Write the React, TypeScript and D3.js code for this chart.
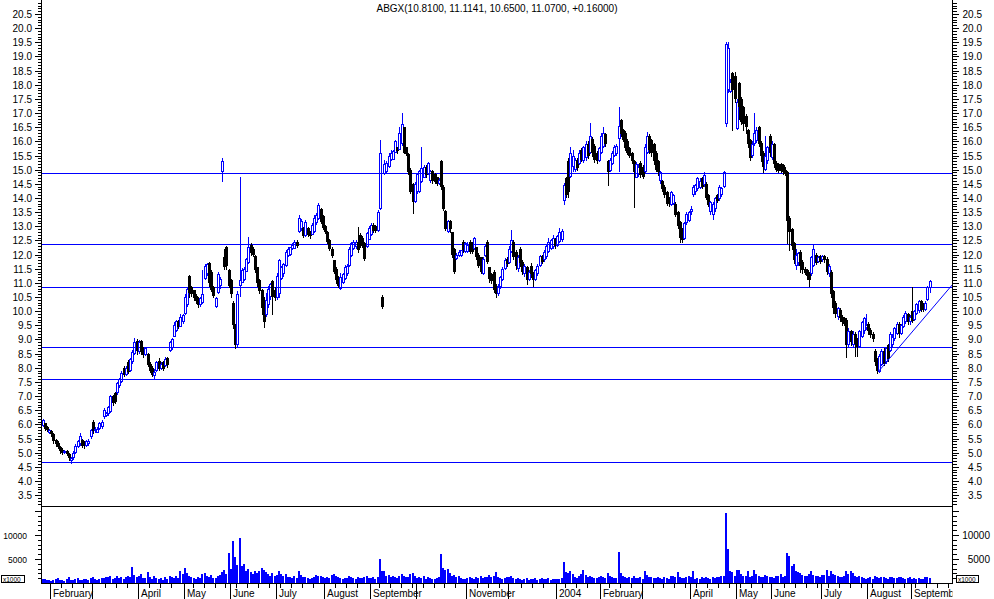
import React from 'react';
import * as d3 from 'd3';

const W = 994;
const H = 599;
const BLUE = '#0000ff';
const FONT = '"Liberation Sans", Arial, sans-serif';

// daily bars, Jan 28 2003 .. Sep 10 2004
const opens = [
  5.95, 6.05, 5.9, 5.7, 5.75, 5.65, 5.45, 5.35, 5.2, 5.1,
  4.98, 5.05, 4.95, 4.7, 4.8, 5.0, 5.2, 5.3, 5.45, 5.35,
  5.25, 5.3, 5.55, 6.1, 5.75, 5.7, 5.85, 5.9, 6.25, 6.3,
  6.35, 6.45, 7.0, 7.1, 7.1, 7.35, 7.5, 8.0, 7.75, 8.2,
  7.9, 8.2, 8.5, 8.95, 8.55, 8.95, 8.7, 8.45, 8.5, 8.15,
  8.0, 7.7, 7.9, 8.25, 7.95, 8.2, 8.05, 8.35, 8.6, 8.7,
  9.1, 9.3, 9.65, 9.45, 9.6, 9.9, 10.2, 11.25, 10.85, 10.75,
  10.55, 10.45, 10.2, 10.3, 11.15, 11.3, 11.7, 11.4, 10.85, 10.15,
  10.65, 10.9, 14.9, 11.9, 12.25, 11.45, 11.1, 10.3, 9.5, 8.8,
  10.9, 11.0, 11.1, 11.4, 11.7, 12.35, 12.2, 11.95, 11.55, 11.1,
  10.75, 10.3, 9.85, 10.2, 10.5, 11.05, 10.75, 10.45, 10.6, 11.15,
  11.3, 11.6, 11.95, 12.0, 12.2, 12.2, 12.45, 12.8, 12.9, 12.95,
  12.65, 12.95, 12.8, 12.7, 12.8, 13.1, 13.25, 13.6, 13.35, 13.0,
  12.8, 12.5, 12.2, 11.8, 11.5, 11.2, 10.8, 11.0, 11.15, 11.3,
  11.6, 11.95, 12.2, 12.25, 12.45, 12.7, 12.6, 12.4, 12.25, 12.5,
  12.7, 13.05, 13.0, 12.85, 13.6, 10.5, 14.85, 14.9, 15.1, 15.35,
  15.35, 15.6, 15.8, 15.7, 15.9, 16.5, 15.8, 15.55, 15.0, 14.5,
  13.85, 14.2, 14.2, 14.55, 14.7, 15.1, 14.85, 14.6, 14.95, 14.85,
  14.75, 14.5, 15.3, 14.4, 13.55, 12.8, 13.2, 12.8, 12.2, 11.85,
  11.95, 11.95, 12.45, 12.1, 12.1, 12.45, 12.4, 12.2, 12.25, 12.0,
  11.9, 11.3, 11.95, 12.45, 11.55, 11.3, 11.4, 10.9, 10.6, 10.85,
  11.1, 11.5, 11.85, 11.7, 12.1, 12.45, 12.1, 11.5, 12.2, 11.75,
  11.3, 11.55, 11.1, 11.6, 11.35, 11.1, 11.3, 11.6, 11.95, 11.8,
  11.9, 12.1, 12.2, 12.25, 12.55, 12.3, 12.45, 12.5, 13.9, 14.7,
  15.3, 14.75, 15.1, 15.0, 15.35, 15.2, 15.7, 15.3, 15.4, 15.9,
  15.6, 16.1, 15.85, 15.6, 15.3, 15.6, 15.8, 16.25, 15.3, 14.95,
  15.2, 15.5, 15.55, 16.1, 16.75, 16.4, 16.3, 16.0, 15.75, 15.6,
  15.3, 14.7, 14.8, 15.25, 15.1, 14.9, 15.6, 16.2, 16.05, 15.9,
  15.6, 15.3, 14.6, 14.6, 14.4, 14.2, 14.0, 13.75, 13.8, 13.8,
  13.5, 13.15, 12.9, 12.55, 13.1, 13.2, 13.5, 14.1, 14.2, 14.3,
  14.35, 14.7, 14.45, 14.5, 14.1, 13.5, 13.4, 13.6, 14.1, 13.95,
  14.1, 14.4, 16.6, 17.8, 17.75, 18.4, 18.3, 16.45, 18.05, 17.5,
  17.2, 16.9, 16.4, 16.05, 15.5, 15.9, 16.0, 16.5, 15.95, 15.6,
  15.0, 15.3, 16.2, 15.4, 15.9, 15.25, 15.2, 15.2, 15.15, 15.0,
  14.9, 13.3, 12.9, 12.4, 11.6, 11.7, 12.1, 11.75, 11.5, 11.45,
  11.35, 11.3, 11.6, 12.0, 11.75, 11.95, 11.8, 11.95, 11.85, 11.3,
  11.4, 10.7, 10.3, 9.8, 10.05, 9.8, 9.75, 9.7, 8.8, 9.3,
  8.8, 9.2, 9.0, 8.75, 9.1, 9.3, 9.4, 9.55, 9.35, 9.2,
  8.6, 8.3, 7.85, 8.1, 8.6, 8.2, 8.8, 8.6, 8.8, 9.0,
  9.2, 9.55, 9.2, 9.45, 9.6, 9.9, 9.6, 10.0, 9.7, 9.9,
  10.0, 10.35, 10.25, 10.05, 10.4, 10.81,
];

const highs = [
  6.2, 6.05, 5.95, 5.85, 5.8, 5.7, 5.5, 5.4, 5.25, 5.15,
  5.1, 5.08, 5.0, 4.85, 5.05, 5.3, 5.45, 5.7, 5.5, 5.4,
  5.45, 5.5, 5.85, 6.15, 5.9, 5.9, 6.1, 6.15, 6.57, 6.45,
  6.65, 7.05, 7.05, 7.15, 7.5, 7.65, 7.9, 8.05, 8.05, 8.27,
  8.35, 8.63, 9.04, 9.0, 8.98, 8.98, 8.75, 8.75, 8.51, 8.2,
  8.05, 7.95, 8.25, 8.33, 8.2, 8.25, 8.39, 8.39, 8.95, 9.04,
  9.6, 9.7, 9.7, 9.89, 9.89, 10.6, 10.85, 11.28, 10.9, 10.75,
  10.6, 10.51, 10.51, 11.45, 11.65, 11.7, 11.72, 11.45, 10.9, 10.51,
  11.4, 11.2, 15.41, 12.2, 12.3, 11.5, 11.15, 10.35, 9.55, 10.7,
  14.75, 11.51, 11.55, 11.87, 12.63, 12.4, 12.25, 11.98, 11.57, 11.15,
  10.8, 10.51, 10.63, 10.9, 11.0, 11.1, 10.85, 11.34, 11.86, 11.6,
  11.69, 12.16, 12.28, 12.28, 12.4, 12.5, 12.5, 13.4, 13.25, 12.98,
  13.22, 12.98, 12.85, 13.1, 13.4, 13.46, 13.81, 13.63, 13.4, 13.05,
  12.85, 12.55, 12.25, 11.81, 11.55, 11.25, 11.34, 11.35, 11.63, 11.65,
  12.28, 12.45, 12.5, 12.5, 12.98, 12.75, 12.65, 12.45, 12.81, 13.0,
  13.1, 13.1, 13.04, 13.57, 16.05, 10.57, 15.34, 15.3, 15.58, 15.69,
  15.69, 16.05, 15.81, 16.5, 16.99, 16.52, 15.81, 15.58, 15.05, 14.52,
  14.55, 14.87, 14.99, 15.81, 15.16, 15.15, 15.28, 14.99, 15.0, 14.87,
  14.75, 14.7, 15.34, 14.45, 13.57, 13.22, 13.22, 12.81, 12.22, 12.05,
  12.16, 12.16, 12.5, 12.45, 12.45, 12.5, 12.45, 12.63, 12.28, 12.05,
  11.92, 11.92, 12.34, 12.5, 11.57, 11.35, 11.45, 10.95, 10.95, 11.25,
  11.55, 11.87, 11.9, 12.3, 12.87, 12.5, 12.15, 12.0, 12.28, 11.8,
  11.65, 11.6, 11.45, 11.7, 11.4, 11.5, 11.65, 12.0, 12.0, 12.16,
  12.35, 12.57, 12.55, 12.69, 12.6, 12.7, 12.93, 12.9, 14.52, 14.75,
  15.4, 15.81, 15.7, 15.4, 15.4, 15.7, 15.75, 15.85, 16.0, 16.0,
  16.64, 16.15, 15.9, 15.65, 15.8, 16.3, 16.52, 16.3, 15.35, 15.4,
  15.65, 15.87, 15.9, 17.22, 16.8, 16.45, 16.35, 16.1, 15.8, 15.63,
  15.35, 15.28, 15.2, 15.3, 15.15, 15.9, 16.34, 16.25, 16.1, 15.95,
  15.65, 15.35, 14.95, 14.65, 14.45, 14.25, 14.05, 14.25, 14.15, 13.85,
  13.55, 13.2, 12.95, 13.15, 13.51, 13.55, 13.7, 14.46, 14.5, 14.75,
  14.7, 14.75, 14.9, 14.55, 14.15, 13.9, 13.85, 14.05, 14.15, 14.45,
  14.4, 14.95, 19.52, 19.52, 18.2, 18.45, 18.45, 17.5, 18.1, 17.55,
  17.25, 16.95, 16.45, 16.1, 16.0, 17.0, 16.5, 16.55, 16.0, 15.65,
  16.2, 15.85, 16.25, 16.0, 15.95, 15.3, 15.25, 15.25, 15.2, 15.1,
  14.95, 13.35, 12.95, 12.45, 12.2, 12.1, 12.15, 11.8, 11.55, 11.5,
  11.4, 11.95, 12.34, 12.05, 11.95, 12.0, 12.0, 12.0, 11.9, 11.65,
  11.45, 10.75, 10.35, 10.15, 10.1, 9.85, 9.8, 9.75, 9.4, 9.35,
  9.3, 9.25, 9.05, 9.35, 9.65, 9.8, 9.9, 9.6, 9.4, 9.25,
  8.65, 8.35, 8.5, 8.65, 8.7, 8.75, 8.85, 9.25, 9.2, 9.45,
  9.6, 9.6, 9.55, 9.85, 10.0, 9.95, 9.85, 10.86, 10.05, 10.3,
  10.4, 10.4, 10.3, 10.35, 10.9, 11.1141,
];

const lows = [
  5.9, 5.8, 5.75, 5.65, 5.6, 5.35, 5.25, 5.15, 5.0, 4.95,
  4.95, 4.9, 4.75, 4.6, 4.75, 4.95, 5.15, 5.25, 5.2, 5.15,
  5.2, 5.25, 5.5, 5.7, 5.7, 5.7, 5.8, 5.85, 6.2, 6.25,
  6.3, 6.4, 6.7, 6.75, 7.05, 7.3, 7.45, 7.7, 7.7, 7.8,
  7.85, 8.15, 8.45, 8.5, 8.5, 8.5, 8.39, 8.4, 8.05, 7.85,
  7.7, 7.62, 7.85, 7.92, 7.92, 7.92, 8.04, 8.04, 8.55, 8.63,
  9.1, 9.25, 9.4, 9.45, 9.55, 9.85, 10.15, 10.5, 10.55, 10.39,
  10.3, 10.16, 10.15, 10.25, 11.1, 11.25, 10.9, 10.7, 10.5, 10.1,
  10.6, 10.8, 14.56, 11.5, 11.5, 10.86, 10.5, 9.4, 8.7, 8.7,
  10.5, 10.98, 11.05, 11.38, 11.68, 11.98, 11.95, 11.39, 10.9, 10.63,
  9.9, 9.45, 9.8, 10.1, 10.4, 9.9, 10.4, 10.39, 10.45, 11.1,
  11.2, 11.57, 11.92, 11.95, 12.16, 12.2, 12.25, 12.75, 12.85, 12.63,
  12.63, 12.65, 12.6, 12.7, 12.75, 13.05, 13.22, 13.1, 12.9, 12.75,
  12.4, 12.15, 11.92, 11.34, 11.0, 10.86, 10.75, 10.95, 11.1, 11.25,
  11.57, 11.92, 12.16, 12.2, 12.1, 12.28, 12.28, 11.81, 12.22, 12.5,
  12.65, 12.81, 12.8, 12.81, 13.57, 10.1, 14.81, 14.85, 15.05, 15.3,
  15.34, 15.58, 15.6, 15.69, 15.85, 15.58, 15.52, 14.85, 14.16, 13.46,
  13.81, 14.15, 14.16, 14.52, 14.69, 14.75, 14.81, 14.52, 14.52, 14.52,
  14.46, 14.45, 14.3, 13.57, 12.87, 12.75, 12.8, 11.92, 11.34, 11.81,
  11.92, 11.9, 12.1, 12.05, 12.05, 12.05, 12.05, 12.16, 11.85, 11.57,
  11.34, 11.28, 11.92, 11.69, 11.04, 11.0, 10.69, 10.5, 10.55, 10.8,
  11.05, 11.45, 11.6, 11.65, 12.05, 11.85, 11.5, 11.4, 11.6, 11.3,
  11.2, 10.95, 11.05, 11.2, 10.9, 11.05, 11.25, 11.55, 11.7, 11.75,
  11.85, 12.05, 12.15, 12.2, 12.22, 12.25, 12.4, 12.46, 13.75, 14.05,
  14.05, 14.7, 14.9, 14.93, 15.0, 15.15, 15.3, 15.25, 15.3, 15.4,
  15.55, 15.5, 15.28, 15.25, 15.28, 15.55, 15.75, 15.85, 14.46, 14.9,
  15.15, 15.45, 15.5, 14.9, 16.2, 16.0, 15.7, 15.55, 15.45, 15.25,
  13.69, 14.69, 14.75, 14.75, 14.7, 14.85, 15.55, 15.6, 15.5, 15.2,
  14.95, 14.8, 14.5, 14.25, 14.05, 13.75, 13.7, 13.7, 13.75, 13.35,
  12.95, 12.46, 12.46, 12.5, 13.05, 13.16, 13.4, 14.05, 14.1, 14.25,
  14.3, 14.35, 14.4, 13.95, 13.7, 13.4, 13.22, 13.51, 13.85, 13.9,
  14.05, 14.35, 16.52, 17.7, 17.7, 16.4, 17.4, 16.4, 16.8, 16.6,
  16.4, 16.3, 15.8, 15.34, 15.4, 15.85, 15.95, 15.85, 15.3, 14.9,
  14.95, 15.2, 15.5, 15.35, 15.1, 14.95, 14.9, 14.9, 14.85, 14.8,
  12.4, 12.16, 12.2, 11.7, 11.45, 11.6, 11.4, 11.35, 11.3, 11.15,
  10.9, 11.25, 11.55, 11.65, 11.7, 11.7, 11.75, 11.75, 11.3, 11.2,
  10.5, 9.95, 9.8, 9.7, 9.65, 9.5, 9.5, 8.39, 8.7, 8.8,
  8.75, 8.4, 8.4, 8.7, 9.05, 9.2, 9.35, 9.2, 9.1, 8.95,
  8.1, 7.8, 7.8, 8.05, 8.1, 8.15, 8.25, 8.55, 8.75, 8.95,
  9.15, 9.1, 9.15, 9.4, 9.55, 9.55, 9.5, 9.6, 9.65, 9.85,
  9.95, 10.0, 10.0, 10.0, 10.35, 10.65,
];

const closes = [
  6.15, 5.85, 5.8, 5.8, 5.65, 5.4, 5.3, 5.2, 5.05, 5.0,
  5.05, 4.95, 4.8, 4.8, 5.0, 5.25, 5.4, 5.6, 5.25, 5.25,
  5.4, 5.4, 5.8, 5.75, 5.85, 5.85, 6.05, 6.1, 6.5, 6.4,
  6.6, 7.0, 6.75, 6.8, 7.45, 7.6, 7.8, 7.75, 8.0, 7.85,
  8.3, 8.55, 8.9, 8.6, 8.9, 8.55, 8.45, 8.7, 8.1, 7.9,
  7.75, 7.85, 8.2, 7.95, 8.15, 7.95, 8.3, 8.1, 8.9, 9.0,
  9.5, 9.65, 9.45, 9.8, 9.85, 10.5, 10.8, 10.65, 10.6, 10.45,
  10.35, 10.2, 10.45, 10.6, 11.6, 11.65, 11.0, 10.75, 10.55, 10.45,
  11.3, 11.15, 15.3, 11.55, 11.6, 10.9, 10.6, 9.5, 8.8, 10.6,
  11.1, 11.45, 11.5, 11.85, 12.25, 12.05, 12.0, 11.45, 11.0, 10.7,
  10.1, 9.6, 10.4, 10.8, 10.95, 10.5, 10.45, 11.25, 11.8, 11.55,
  11.65, 12.1, 12.2, 12.25, 12.35, 12.45, 12.3, 13.3, 13.2, 12.65,
  13.15, 12.7, 12.65, 13.05, 13.3, 13.4, 13.75, 13.15, 12.95, 12.8,
  12.45, 12.2, 11.95, 11.4, 11.1, 10.9, 11.2, 11.3, 11.55, 11.6,
  12.2, 12.4, 12.45, 12.45, 12.15, 12.35, 12.3, 11.85, 12.75, 12.95,
  13.05, 12.85, 12.85, 13.5, 15.6, 10.15, 15.2, 15.25, 15.5, 15.6,
  15.65, 16.0, 15.65, 16.3, 16.6, 15.6, 15.55, 14.9, 14.2, 13.85,
  14.5, 14.85, 14.95, 15.05, 15.1, 14.8, 15.25, 14.95, 14.6, 14.55,
  14.5, 14.65, 14.4, 13.6, 12.9, 13.2, 12.9, 12.0, 11.4, 12.0,
  12.1, 12.15, 12.15, 12.4, 12.35, 12.1, 12.1, 12.6, 11.9, 11.6,
  11.4, 11.85, 12.3, 11.75, 11.15, 11.05, 10.75, 10.6, 10.9, 11.2,
  11.5, 11.8, 11.65, 12.2, 12.5, 11.9, 11.6, 11.9, 11.7, 11.4,
  11.6, 11.1, 11.4, 11.3, 11.1, 11.45, 11.6, 11.95, 11.75, 12.1,
  12.3, 12.45, 12.5, 12.6, 12.3, 12.65, 12.8, 12.85, 14.45, 14.1,
  14.2, 15.6, 15.5, 15.35, 15.05, 15.6, 15.35, 15.8, 15.9, 15.5,
  16.2, 15.6, 15.35, 15.3, 15.75, 16.2, 16.3, 15.9, 14.9, 15.35,
  15.6, 15.8, 15.85, 16.55, 16.25, 16.05, 15.75, 15.6, 15.5, 15.3,
  14.9, 15.2, 15.1, 14.8, 14.75, 15.8, 16.2, 15.7, 15.6, 15.3,
  15.0, 14.9, 14.9, 14.3, 14.1, 13.8, 13.8, 14.2, 14.1, 13.4,
  13.0, 12.6, 12.5, 13.1, 13.45, 13.5, 13.6, 14.4, 14.45, 14.7,
  14.6, 14.4, 14.8, 14.0, 13.75, 13.85, 13.8, 14.0, 13.9, 14.4,
  14.35, 14.9, 19.45, 19.3, 18.1, 17.8, 17.5, 17.4, 17.2, 16.7,
  16.6, 16.5, 15.9, 15.4, 15.9, 16.3, 16.4, 15.9, 15.5, 15.1,
  15.5, 15.8, 15.6, 15.9, 15.2, 15.0, 14.95, 14.95, 14.9, 14.85,
  13.2, 12.8, 12.3, 11.8, 12.0, 12.05, 11.6, 11.45, 11.35, 11.25,
  11.1, 11.9, 12.2, 11.7, 11.9, 11.75, 11.95, 11.8, 11.4, 11.6,
  10.6, 10.1, 9.9, 10.1, 9.75, 9.6, 9.55, 8.8, 9.3, 8.9,
  9.2, 8.85, 8.75, 9.3, 9.6, 9.75, 9.5, 9.3, 9.15, 9.0,
  8.2, 7.9, 8.4, 8.6, 8.15, 8.7, 8.3, 9.2, 9.1, 9.4,
  9.55, 9.2, 9.5, 9.8, 9.95, 9.6, 9.8, 9.65, 10.0, 10.25,
  10.35, 10.05, 10.05, 10.3, 10.85, 11.07,
];

// volume in thousands of shares
const volumes = [
  900, 800, 600, 700, 500, 600, 800, 1100, 600, 700,
  500, 900, 1300, 700, 600, 800, 1000, 700, 600, 900,
  800, 600, 1000, 1200, 900, 700, 800, 1100, 1000, 1300,
  1200, 1500, 900, 1100, 1400, 1000, 1200, 900, 1300, 1500,
  1200, 3400, 1600, 1300, 1500, 1800, 1100, 1000, 2200, 1200,
  900, 1400, 1100, 800, 1000, 700, 1200, 900, 1400, 1300,
  1100, 1500, 1000, 2400, 1800, 3200, 2000, 1400, 1200, 1000,
  900, 1300, 1100, 1800, 2100, 1500, 1200, 1600, 1000, 1100,
  1400, 1700, 2200, 2800, 1900, 6200, 3000, 8800, 5500, 3800,
  9400, 3500, 4000, 2600, 3000, 2200, 1800, 2400, 2000, 2600,
  3200, 2800, 2200, 1800, 1500, 2000, 1400, 1600, 2400, 1800,
  1500, 1900, 1300, 1200, 1000, 1400, 1100, 2500, 1600, 1300,
  1200, 1000, 900, 1100, 1300, 1700, 1500, 1400, 1200, 1000,
  1300, 1100, 1600, 1800, 1400, 1200, 1000, 900, 1100, 1000,
  1400, 1200, 1000, 900, 1300, 1100, 1000, 1200, 1400, 1100,
  1000, 1300, 900, 1200, 5000, 2500, 2400, 1500, 1600, 1300,
  1500, 1200, 1100, 1400, 1800, 1500, 1200, 1300, 1800, 2000,
  1400, 1100, 1300, 1000, 1500, 900, 1200, 1000, 900, 800,
  1100, 1300, 6100, 3200, 2800, 3000, 2000, 1400, 1600, 1200,
  1500, 1000, 900, 800, 1100, 1300, 1000, 900, 1200, 1100,
  1400, 1000, 1200, 1300, 1600, 1300, 1500, 2200, 1200, 1000,
  900, 1100, 1300, 1200, 1500, 1000, 900, 1100, 800, 700,
  800, 1000, 700, 900, 800, 1000, 700, 900, 1100, 800,
  900, 1000, 700, 800, 900, 800, 900, 1000, 4300, 2200,
  2000, 2400, 1800, 1200, 1000, 1400, 1800, 2800, 1600, 1200,
  1500, 1300, 1100, 1000, 1200, 1400, 1300, 1100, 2000, 1400,
  1200, 1000, 1100, 6500, 2000, 1500, 1300, 1100, 1200, 1000,
  1400, 1100, 1000, 1200, 900, 2400, 1600, 1300, 1200, 1100,
  1000, 1200, 1100, 900, 1300, 1000, 900, 1400, 1400, 1200,
  2200, 1300, 1000, 1100, 1200, 1400, 1200, 2600, 900, 1000,
  800, 1200, 1000, 1300, 1100, 900, 1200, 1000, 1300, 1200,
  1400, 1500, 14500, 7000, 2600, 2200, 1400, 2700, 2800, 1800,
  1500, 1400, 2600, 1300, 1500, 2700, 1800, 1400, 1300, 1200,
  1600, 1400, 1300, 1200, 1100, 1400, 1500, 1800, 1300, 1400,
  6300, 5700, 3600, 4000, 2600, 2200, 2000, 1700, 1500, 1400,
  1800, 2600, 1700, 1500, 1400, 1300, 1600, 1600, 2800, 1500,
  2400, 1900, 1600, 1400, 1200, 1300, 1500, 2400, 1800, 2600,
  2000, 1500, 1300, 1400, 1200, 1000, 900, 1100, 1200, 800,
  1400, 1200, 1000, 1300, 1200, 1100, 900, 1300, 1200, 1000,
  1100, 1300, 1200, 1000, 900, 1100, 1200, 800, 1000, 900,
  1100, 800, 900, 1300, 1200, 1000,
];

// first bar of each month, and its label
const monthStarts = [4, 23, 44, 65, 86, 107, 129, 150, 171, 194, 213, 235, 255, 274, 296, 317, 333, 356, 377, 397];
const monthNames = ['February', 'March', 'April', 'May', 'June', 'July', 'August', 'September', 'October', 'November', 'December', '2004', 'February', 'March', 'April', 'May', 'June', 'July', 'August', 'September'];

// horizontal support / resistance lines
const levels = [14.88, 12.37, 10.85, 8.73, 7.6, 4.665];
// rising trendline from the August low: [bar index, price]
const trendFrom = [381.6, 7.86];
const trendTo = [415.5, 10.94];

const title = 'ABGX(10.8100, 11.1141, 10.6500, 11.0700, +0.16000)';

const AX_L = 41.5;
const AX_R = 952.5;
const PRICE_BOTTOM = 506;
const AXIS_Y = 583;

const x = d3.scaleLinear().domain([0, 405]).range([42.5, 929.5]);
const y = d3.scaleLinear().domain([3.115, 20.995]).range([PRICE_BOTTOM, 0]);
const yv = d3.scaleLinear().domain([0, 16040]).range([AXIS_Y, PRICE_BOTTOM]);

let measureCtx: CanvasRenderingContext2D | null = null;
function textWidth(s: string) {
  if (!measureCtx) measureCtx = document.createElement('canvas').getContext('2d');
  if (!measureCtx) return s.length * 5.5;
  measureCtx.font = `10px ${FONT}`;
  return measureCtx.measureText(s).width;
}

function Candles() {
  const out: React.ReactNode[] = [];
  for (let i = 0; i < closes.length; i++) {
    const o = opens[i], c = closes[i], h = highs[i], l = lows[i];
    const cx = Math.round(x(i));
    const top = Math.round(y(Math.max(o, c)));
    const bot = Math.round(y(Math.min(o, c)));
    const hi = Math.round(y(h));
    const lo = Math.round(y(l));
    if (c >= o) {
      out.push(
        <g key={i} stroke={BLUE} fill="none">
          {hi < top && <line x1={cx + 0.5} x2={cx + 0.5} y1={hi} y2={top} />}
          {lo > bot && <line x1={cx + 0.5} x2={cx + 0.5} y1={bot} y2={lo} />}
          {bot - top >= 2
            ? <rect x={cx - 0.5} y={top + 0.5} width={2} height={bot - top - 1} />
            : <line x1={cx - 1} x2={cx + 2} y1={top + 0.5} y2={top + 0.5} />}
        </g>
      );
    } else {
      out.push(
        <g key={i}>
          <line x1={cx + 0.5} x2={cx + 0.5} y1={hi} y2={lo + 1} stroke="#000" />
          <rect x={cx - 1} y={top} width={3} height={Math.max(bot - top, 1)} fill="#000" />
        </g>
      );
    }
  }
  return <g shapeRendering="crispEdges">{out}</g>;
}

function Volume() {
  return (
    <g fill={BLUE} shapeRendering="crispEdges">
      {volumes.map((v, i) => {
        const cx = Math.round(x(i));
        const top = Math.round(yv(v));
        return <rect key={i} x={cx - 1} y={top} width={2} height={AXIS_Y - top} />;
      })}
    </g>
  );
}

function PriceAxes() {
  const majors = d3.range(7, 42).map((k) => k / 2); // 3.5 .. 20.5
  const minors = d3.range(32, 210).map((k) => k / 10);
  return (
    <g shapeRendering="crispEdges" stroke="#000">
      {minors.map((v) => {
        const yy = Math.round(y(v)) + 0.5;
        return (
          <g key={'m' + v}>
            <line x1={38} x2={AX_L} y1={yy} y2={yy} />
            <line x1={AX_R} x2={AX_R + 4} y1={yy} y2={yy} />
          </g>
        );
      })}
      {majors.map((v) => {
        const yy = Math.round(y(v)) + 0.5;
        return (
          <g key={'M' + v}>
            <line x1={35} x2={AX_L} y1={yy} y2={yy} />
            <line x1={AX_R} x2={AX_R + 6} y1={yy} y2={yy} />
            <text x={32} y={yy + 3.5} textAnchor="end" stroke="none" fill="#000" fontSize={10} fontFamily={FONT}>{v.toFixed(1)}</text>
            <text x={982} y={yy + 3.5} textAnchor="end" stroke="none" fill="#000" fontSize={10} fontFamily={FONT}>{v.toFixed(1)}</text>
          </g>
        );
      })}
    </g>
  );
}

function VolumeAxes() {
  const ticks = d3.range(1000, 16000, 1000);
  return (
    <g shapeRendering="crispEdges" stroke="#000">
      {ticks.map((v) => {
        const yy = Math.round(yv(v)) + 0.5;
        const major = v % 5000 === 0;
        return (
          <g key={v}>
            <line x1={major ? 35 : 38} x2={AX_L} y1={yy} y2={yy} />
            <line x1={AX_R} x2={AX_R + (major ? 6 : 4)} y1={yy} y2={yy} />
            {major && v <= 10000 && (
              <>
                <text x={27} y={yy + 3.5} textAnchor="end" stroke="none" fill="#000" fontSize={8.5} fontFamily={FONT}>{v}</text>
                <text x={990} y={yy + 3.5} textAnchor="end" stroke="none" fill="#000" fontSize={10} fontFamily={FONT}>{v}</text>
              </>
            )}
          </g>
        );
      })}
      <rect x={1.5} y={575.5} width={23} height={7} fill="#fff" />
      <rect x={956.5} y={575.5} width={22} height={7} fill="#fff" />
      <text x={3} y={581.5} stroke="none" fill="#000" fontSize={6.5} fontFamily={FONT}>x1000</text>
      <text x={958} y={581.5} stroke="none" fill="#000" fontSize={6.5} fontFamily={FONT}>x1000</text>
    </g>
  );
}

function TimeAxis() {
  const weekly: number[] = [];
  for (let i = 4; i < 415; i += 5) {
    if (monthStarts.every((m) => Math.abs(m - i) > 1)) weekly.push(i);
  }
  let lastEnd = -Infinity;
  const labels: { tx: number; name: string }[] = [];
  monthStarts.forEach((m, k) => {
    const tx = Math.round(x(m)) + 2;
    if (tx > lastEnd + 2) {
      labels.push({ tx, name: monthNames[k] });
      lastEnd = tx + textWidth(monthNames[k]);
    }
  });
  return (
    <g>
      <defs>
        <clipPath id="tclip">
          <rect x={AX_L} y={AXIS_Y} width={AX_R - AX_L} height={H - AXIS_Y} />
        </clipPath>
      </defs>
      <g shapeRendering="crispEdges" stroke="#000">
        {weekly.map((i) => {
          const xx = Math.round(x(i)) - 0.5;
          return xx < AX_R ? <line key={i} x1={xx} x2={xx} y1={AXIS_Y} y2={AXIS_Y + 5} /> : null;
        })}
        {monthStarts.map((m) => {
          const xx = Math.round(x(m)) - 0.5;
          return <line key={m} x1={xx} x2={xx} y1={AXIS_Y} y2={H} />;
        })}
      </g>
      <g clipPath="url(#tclip)">
        {labels.map((l, k) => (
          <text key={k} x={l.tx} y={597} fontSize={10} fontFamily={FONT} fill="#000">{l.name}</text>
        ))}
      </g>
    </g>
  );
}

export default function App() {
  const [tx0, tx1] = [x(trendFrom[0]), x(trendTo[0])];
  return (
    <div style={{ position: 'absolute', left: 0, top: 0 }}>
      <svg width={W} height={H} style={{ display: 'block', background: '#fff' }}>
        <rect width={W} height={H} fill="#fff" />
        <text x={497} y={12} textAnchor="middle" fontSize={10} fontFamily={FONT} fill="#000">{title}</text>

        <g shapeRendering="crispEdges" stroke={BLUE}>
          {levels.map((v) => {
            const yy = Math.floor(y(v)) + 0.5;
            return <line key={v} x1={AX_L} x2={AX_R} y1={yy} y2={yy} />;
          })}
        </g>

        <Candles />

        <line x1={tx0} y1={y(trendFrom[1])} x2={tx1} y2={y(trendTo[1])} stroke={BLUE} strokeWidth={1} />

        <Volume />

        <g shapeRendering="crispEdges" stroke="#000">
          <line x1={AX_L} x2={AX_L} y1={0} y2={AXIS_Y + 1} />
          <line x1={AX_R} x2={AX_R} y1={0} y2={AXIS_Y + 1} />
          <line x1={AX_L} x2={AX_R} y1={PRICE_BOTTOM + 0.5} y2={PRICE_BOTTOM + 0.5} />
          <line x1={AX_L} x2={AX_R} y1={AXIS_Y + 0.5} y2={AXIS_Y + 0.5} />
        </g>

        <PriceAxes />
        <VolumeAxes />
        <TimeAxis />
      </svg>
    </div>
  );
}
